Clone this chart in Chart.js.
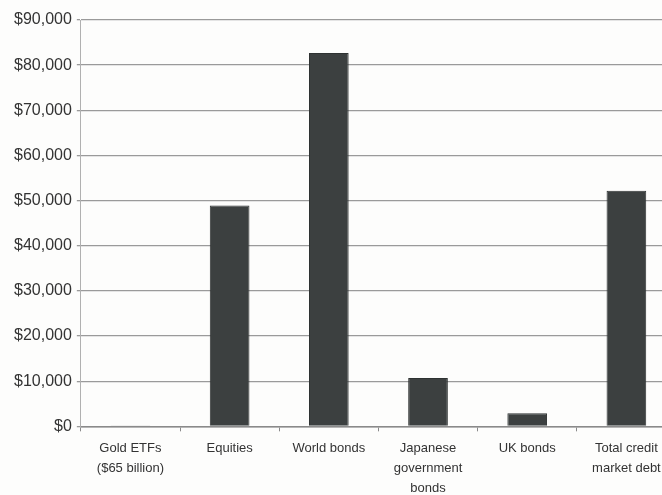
<!DOCTYPE html>
<html>
<head>
<meta charset="utf-8">
<script src="https://cdn.jsdelivr.net/npm/chart.js@4"></script>
<style>
  html, body { margin: 0; padding: 0; background: #fdfdfc; overflow: hidden; }
  .wrap { width: 676px; height: 505px; position: relative; }
</style>
</head>
<body>
<div class="wrap"><canvas id="myChart"></canvas></div>
<script>
// categories and market size in $ billions
const categories = [
  ["Gold ETFs", "($65 billion)"],
  "Equities",
  "World bonds",
  ["Japanese", "government", "bonds"],
  "UK bonds",
  ["Total credit", "market debt"]
];
const marketSize = [65, 48900, 82700, 10700, 2900, 52200];
const yTicks = [0, 10000, 20000, 30000, 40000, 50000, 60000, 70000, 80000, 90000];

const ctx = document.getElementById("myChart");
const myChart = new Chart(ctx, {
  type: "bar",
  data: {
    labels: categories,
    datasets: [{
      data: marketSize,
      backgroundColor: "#3c4040",
      borderColor: "#2e3232",
      borderWidth: 1,
      barPercentage: 0.4,
      categoryPercentage: 1
    }]
  },
  options: {
    responsive: true,
    maintainAspectRatio: false,
    animation: false,
    layout: { padding: { left: 9, top: 20, right: 0, bottom: 0 } },
    plugins: { legend: { display: false }, tooltip: { enabled: false } },
    scales: {
      x: {
        offset: true,
        grid: {
          offset: true,
          drawOnChartArea: false,
          drawTicks: true,
          tickLength: 5,
          color: "#8a8a8a"
        },
        border: { color: "#8a8a8a", width: 1.5 },
        ticks: {
          color: "#333",
          font: { family: "Liberation Sans", size: 13, lineHeight: 1.53 },
          maxRotation: 0,
          autoSkip: false,
          padding: 7
        }
      },
      y: {
        min: 0,
        max: 90000,
        afterBuildTicks: (axis) => { axis.ticks = yTicks.map(v => ({ value: v })); },
        grid: { color: "#9a9a9a", lineWidth: 1.3, tickLength: 4 },
        border: { color: "#b0b0b0", width: 1 },
        ticks: {
          color: "#333",
          font: { family: "Liberation Sans", size: 16 },
          padding: 5,
          callback: (v) => "$" + v.toLocaleString("en-US")
        }
      }
    }
  }
});
</script>
</body>
</html>
